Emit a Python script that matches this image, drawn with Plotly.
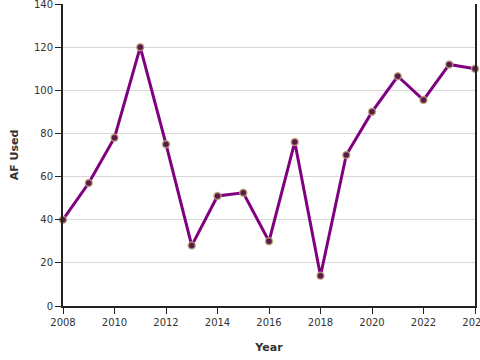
import plotly.graph_objects as go

years = [2008, 2009, 2010, 2011, 2012, 2013, 2014, 2015, 2016, 2017, 2018, 2019, 2020, 2021, 2022, 2023, 2024]
af_used = [40, 57, 78, 120, 75, 28, 51, 52.5, 30, 76, 14, 70, 90, 106.5, 95.5, 112, 110]

fig = go.Figure()
fig.add_trace(go.Scatter(
    x=years, y=af_used, mode="lines+markers",
    line=dict(color="#800080", width=3),
    marker=dict(size=7, color="#5a1a4a", line=dict(color="rgba(190,170,120,0.8)", width=1.5)),
    showlegend=False, cliponaxis=False,
))

fig.update_layout(
    width=480, height=360,
    margin=dict(l=63, r=5, t=4, b=54, autoexpand=False),
    paper_bgcolor="white", plot_bgcolor="white",
    font=dict(family="DejaVu Sans", size=10, color="#333"),
)
fig.update_xaxes(
    range=[2008, 2024], tickvals=list(range(2008, 2025, 2)),
    showgrid=False, zeroline=False, automargin=False, ticklabeloverflow="allow",
    showline=True, linecolor="#222", linewidth=2,
    ticks="outside", ticklen=6, tickcolor="#222",
    title=dict(text="<b>Year</b>", font=dict(size=11), standoff=16),
)
fig.update_yaxes(
    range=[0, 140], tickvals=list(range(0, 141, 20)),
    showgrid=True, gridcolor="#d8d8d8", zeroline=False, automargin=False, ticklabeloverflow="allow",
    showline=True, linecolor="#222", linewidth=2, mirror=True,
    ticks="outside", ticklen=6, tickcolor="#222",
    title=dict(text="<b>AF Used</b>", font=dict(size=11), standoff=13),
)
fig.write_html("out.html", config={"displayModeBar": False},
               post_script="document.body.style.margin='0';document.body.style.overflow='hidden';")
